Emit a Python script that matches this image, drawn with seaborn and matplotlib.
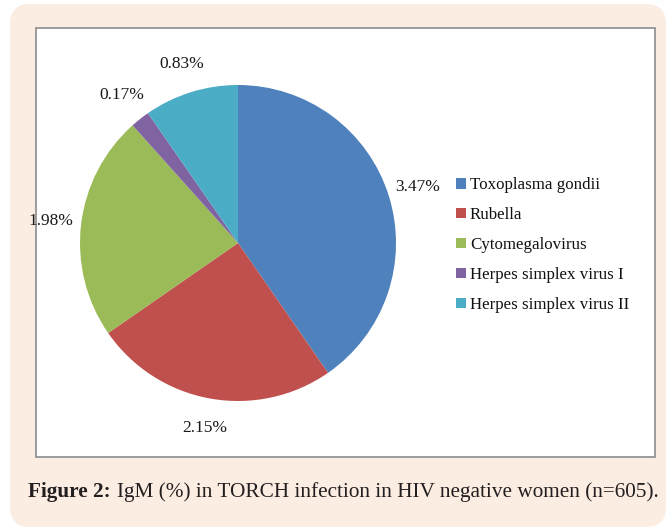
import matplotlib
matplotlib.use("Agg")
import matplotlib.pyplot as plt
from matplotlib.patches import FancyBboxPatch, Rectangle
import seaborn as sns

# data
infections = ["Toxoplasma gondii", "Rubella", "Cytomegalovirus",
              "Herpes simplex virus I", "Herpes simplex virus II"]
igm_pct = [3.47, 2.15, 1.98, 0.17, 0.83]
pct_labels = ["3.47%", "2.15%", "1.98%", "0.17%", "0.83%"]
colors = ["#4F81BD", "#C0504D", "#9BBB59", "#8064A2", "#4BACC6"]

sns.set_theme(style="white")
plt.rcParams["font.family"] = ["Liberation Serif", "DejaVu Serif"]

W, H = 667, 528
fig = plt.figure(figsize=(W / 100, H / 100), dpi=100)
fig.patch.set_facecolor("white")

# peach rounded frame
outer = FancyBboxPatch((0.10 + 0.2, 0.01 + 0.2), 6.56 - 0.4, 5.23 - 0.4,
                       boxstyle="round,pad=0.2,rounding_size=0.2",
                       transform=fig.dpi_scale_trans, facecolor="#FCEDE3",
                       edgecolor="none", zorder=-2)
fig.patches.append(outer)
# white inner chart box
inner = Rectangle((36 / W, 1 - 457 / H), (655 - 36) / W, (457 - 28) / H,
                  transform=fig.transFigure, facecolor="white",
                  edgecolor="#8C8C8C", linewidth=1.2, zorder=-1)
fig.patches.append(inner)

# pie axes: centre ~ (238, 243) px, radius ~ 158 px
cx, cy, r = 238, 243, 158
side = 2.5 * r
ax = fig.add_axes([(cx - side / 2) / W, (H - cy - side / 2) / H, side / W, side / H])
ax.set_facecolor("none")
wedges, texts = ax.pie(igm_pct, labels=pct_labels, colors=colors, startangle=90,
                       counterclock=False, labeldistance=1.19,
                       wedgeprops=dict(linewidth=0),
                       textprops=dict(fontsize=12.5, color="#1a1a1a"))
for t in texts:
    t.set_horizontalalignment("center")
ax.set_aspect("equal")
ax.axis("off")

leg = fig.legend(wedges, infections, loc="upper left",
                 bbox_to_anchor=(448 / W, 1 - 169 / H), frameon=False,
                 fontsize=12.2, handlelength=0.55, handleheight=0.55,
                 handletextpad=0.25, labelspacing=0.82, borderpad=0)
for txt in leg.get_texts():
    txt.set_color("#111111")
    txt.set_fontweight("medium")

# caption
cap_y = 1 - 492 / H
bold = fig.text(28 / W, cap_y, "Figure 2:", fontsize=15.3, fontweight="bold",
                color="#231f20", va="center", ha="left")
fig.canvas.draw()
bb = bold.get_window_extent(renderer=fig.canvas.get_renderer())
fig.text((bb.x1 + 6) / W, cap_y,
         "IgM (%) in TORCH infection in HIV negative women (n=605).",
         fontsize=15.3, color="#231f20", va="center", ha="left")

fig.savefig("out.png", dpi=100, facecolor=fig.get_facecolor())
